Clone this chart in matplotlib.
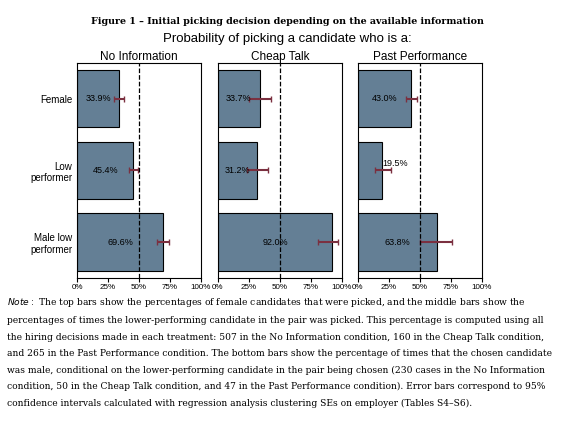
import matplotlib.pyplot as plt

categories = ["Female", "Low\nperformer", "Male low\nperformer"]
panels = ["No Information", "Cheap Talk", "Past Performance"]
values = [
    [33.9, 45.4, 69.6],
    [33.7, 31.2, 92.0],
    [43.0, 19.5, 63.8],
]
ci_low = [
    [30.0, 42.0, 64.5],
    [25.0, 23.0, 81.0],
    [38.5, 14.0, 50.0],
]
ci_high = [
    [38.0, 49.5, 74.5],
    [43.0, 40.0, 97.0],
    [47.5, 26.5, 76.0],
]
ticks = [0, 25, 50, 75, 100]

fig = plt.figure(figsize=(5.74, 4.44), dpi=100)
fig.text(0.5, 1 - 21 / 444, "Figure 1 \u2013 Initial picking decision depending on the available information",
         ha="center", va="center", fontsize=6.8, fontweight="bold", family="DejaVu Serif")
fig.text(0.5, 1 - 39 / 444, "Probability of picking a candidate who is a:", ha="center", va="center",
         fontsize=9.5, family="Liberation Sans")

lefts = [77, 218, 358]
for k, name in enumerate(panels):
    ax = fig.add_axes([lefts[k] / 574, 1 - 278 / 444, 124 / 574, 215 / 444])
    ypos = [2, 1, 0]
    vals = values[k]
    ax.barh(ypos, vals, height=0.8, color="#647f95", edgecolor="black", linewidth=0.8)
    err_lo = [v - l for v, l in zip(vals, ci_low[k])]
    err_hi = [h - v for v, h in zip(vals, ci_high[k])]
    ax.errorbar(vals, ypos, xerr=[err_lo, err_hi], fmt="none", ecolor="#7b3040",
                elinewidth=1.5, capsize=2)
    ax.axvline(50, color="black", linestyle="--", linewidth=0.9)
    for y, v in zip(ypos, vals):
        if v < 25:
            ax.text(v, y + 0.1, f"{v:.1f}%", ha="left", va="center", fontsize=6.5,
                    family="Liberation Sans")
        else:
            ax.text(v / 2, y, f"{v:.1f}%", ha="center", va="center", fontsize=6.5,
                    family="Liberation Sans")
    ax.set_xlim(0, 100)
    ax.set_ylim(-0.5, 2.5)
    ax.set_xticks(ticks)
    ax.set_xticklabels([f"{t}%" for t in ticks], fontsize=5.8, family="Liberation Sans")
    ax.tick_params(axis="x", length=3, pad=1)
    ax.set_title(name, fontsize=8.5, family="Liberation Sans", pad=2)
    if k == 0:
        ax.set_yticks(ypos)
        ax.set_yticklabels(categories, fontsize=7, family="Liberation Sans", linespacing=1.2)
        ax.tick_params(axis="y", length=0)
    else:
        ax.set_yticks([])

note = ("$\\it{Note:}$ The top bars show the percentages of female candidates that were picked, and the middle bars show the\n"
        "percentages of times the lower-performing candidate in the pair was picked. This percentage is computed using all\n"
        "the hiring decisions made in each treatment: 507 in the No Information condition, 160 in the Cheap Talk condition,\n"
        "and 265 in the Past Performance condition. The bottom bars show the percentage of times that the chosen candidate\n"
        "was male, conditional on the lower-performing candidate in the pair being chosen (230 cases in the No Information\n"
        "condition, 50 in the Cheap Talk condition, and 47 in the Past Performance condition). Error bars correspond to 95%\n"
        "confidence intervals calculated with regression analysis clustering SEs on employer (Tables S4\u2013S6).")
fig.text(0.012, 1 - 296 / 444, note, ha="left", va="top", fontsize=6.6, family="DejaVu Serif", linespacing=2.05)

fig.savefig("out.png", dpi=100)
